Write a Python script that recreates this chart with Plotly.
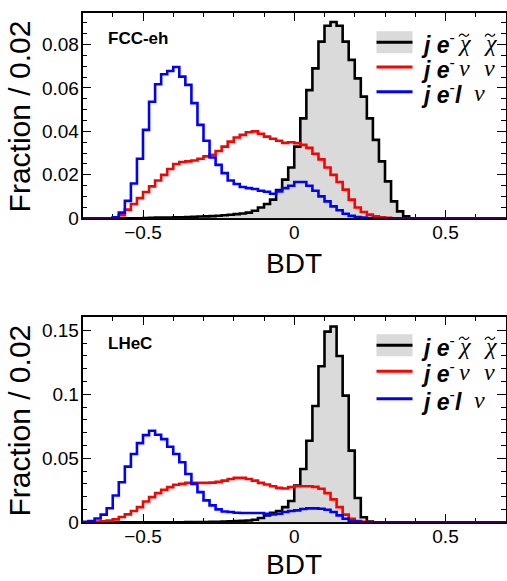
import numpy as np
import plotly.graph_objects as go

W, H = 507, 581

# ---- data: 70 bins of width 0.02 from -0.7 to 0.7 ----
bin_lo, bin_hi, bin_w = -0.7, 0.7, 0.02

signal_fcc = [0, 0, 0, 0, 0, 0, 0, 0, 0, 0,
              0.0001, 0.0002, 0.0003, 0.0003, 0.0004, 0.0005, 0.0005, 0.0006, 0.0007, 0.0008,
              0.0009, 0.0010, 0.0012, 0.0014, 0.0016, 0.0019, 0.0022, 0.0026, 0.0035, 0.0050,
              0.0066, 0.0086, 0.0130, 0.0178, 0.0234, 0.0330, 0.0460, 0.0590, 0.0690, 0.0813,
              0.0886, 0.0903, 0.0886, 0.0813, 0.0729, 0.0644, 0.0560, 0.0460, 0.0361, 0.0262,
              0.0170, 0.0078, 0.0032, 0.0009, 0, 0, 0, 0, 0, 0,
              0, 0, 0, 0, 0, 0, 0, 0, 0, 0]
nunu_fcc = [0, 0, 0, 0, 0, 0.0002, 0.0014, 0.0040, 0.0066, 0.0093,
            0.0121, 0.0147, 0.0174, 0.0200, 0.0227, 0.0250, 0.0259, 0.0262, 0.0266, 0.0274,
            0.0285, 0.0292, 0.0310, 0.0330, 0.0353, 0.0372, 0.0384, 0.0396, 0.0400, 0.0389,
            0.0376, 0.0366, 0.0357, 0.0347, 0.0350, 0.0346, 0.0338, 0.0324, 0.0297, 0.0271,
            0.0234, 0.0200, 0.0167, 0.0132, 0.0086, 0.0050, 0.0029, 0.0017, 0.0009, 0.0005,
            0.0002, 0, 0, 0, 0, 0, 0, 0, 0, 0,
            0, 0, 0, 0, 0, 0, 0, 0, 0, 0]
lnu_fcc = [0, 0, 0, 0, 0, 0.0005, 0.0026, 0.0080, 0.0160, 0.0274,
           0.0407, 0.0536, 0.0617, 0.0663, 0.0678, 0.0696, 0.0652, 0.0614, 0.0530, 0.0430,
           0.0357, 0.0280, 0.0246, 0.0208, 0.0174, 0.0158, 0.0144, 0.0139, 0.0135, 0.0127,
           0.0122, 0.0113, 0.0124, 0.0139, 0.0150, 0.0167, 0.0167, 0.0150, 0.0127, 0.0101,
           0.0078, 0.0055, 0.0037, 0.0021, 0.0011, 0.0006, 0.0003, 0.0001, 0, 0,
           0, 0, 0, 0, 0, 0, 0, 0, 0, 0,
           0, 0, 0, 0, 0, 0, 0, 0, 0, 0]

signal_lhec = [0, 0, 0, 0, 0, 0, 0, 0, 0, 0,
               0, 0, 0, 0, 0, 0, 0, 0.0001, 0.0001, 0.0002,
               0.0002, 0.0003, 0.0004, 0.0005, 0.0007, 0.0009, 0.0011, 0.0014, 0.0020, 0.0034,
               0.0054, 0.0075, 0.0088, 0.0119, 0.0166, 0.0287, 0.0417, 0.0637, 0.0909, 0.1220,
               0.1490, 0.1530, 0.1300, 0.0990, 0.0560, 0.0190, 0.0040, 0.0005, 0, 0,
               0, 0, 0, 0, 0, 0, 0, 0, 0, 0,
               0, 0, 0, 0, 0, 0, 0, 0, 0, 0]
nunu_lhec = [0, 0.0003, 0.0005, 0.0008, 0.0013, 0.0023, 0.0041, 0.0062, 0.0088, 0.0119,
             0.0163, 0.0197, 0.0228, 0.0254, 0.0275, 0.0293, 0.0300, 0.0308, 0.0308, 0.0308,
             0.0308, 0.0310, 0.0316, 0.0326, 0.0339, 0.0347, 0.0347, 0.0339, 0.0326, 0.0308,
             0.0295, 0.0282, 0.0269, 0.0264, 0.0275, 0.0282, 0.0282, 0.0282, 0.0277, 0.0262,
             0.0228, 0.0179, 0.0119, 0.0060, 0.0028, 0.0010, 0.0003, 0, 0, 0,
             0, 0, 0, 0, 0, 0, 0, 0, 0, 0,
             0, 0, 0, 0, 0, 0, 0, 0, 0, 0]
lnu_lhec = [0.0003, 0.0010, 0.0030, 0.0060, 0.0110, 0.0210, 0.0313, 0.0435, 0.0534, 0.0619,
            0.0681, 0.0715, 0.0684, 0.0650, 0.0590, 0.0534, 0.0469, 0.0378, 0.0300, 0.0236,
            0.0171, 0.0132, 0.0101, 0.0085, 0.0080, 0.0075, 0.0073, 0.0073, 0.0073, 0.0073,
            0.0067, 0.0062, 0.0067, 0.0080, 0.0088, 0.0093, 0.0104, 0.0109, 0.0109, 0.0106,
            0.0098, 0.0080, 0.0054, 0.0028, 0.0010, 0.0005, 0, 0, 0, 0,
            0, 0, 0, 0, 0, 0, 0, 0, 0, 0,
            0, 0, 0, 0, 0, 0, 0, 0, 0, 0]

panel_names = ["FCC-eh", "LHeC"]
x_title = "BDT"
y_title = "Fraction / 0.02"

# legend pieces: Latin part, then Greek symbols (with tilde flag)
leg_latin = ["<b><i>j e</i></b><sup>-</sup>",
             "<b><i>j e</i></b><sup>-</sup>",
             "<b><i>j e</i></b><sup>-</sup><b><i>l</i></b>"]
leg_greek = [[("χ", True), ("χ", True)],
             [("ν", False), ("ν", False)],
             [("ν", False)]]
leg_greek_x = [[456, 482], [457, 482], [472]]   # left edges in px
leg_colors = ["black", "red", "blue"]

edges = np.round(np.arange(bin_lo, bin_hi + bin_w / 2, bin_w), 4)

FONT = "Liberation Sans, Arial, Helvetica, sans-serif"
SERIF = "Liberation Serif, Times New Roman, serif"
GREY = "rgb(218,218,218)"


def px(x):
    return x / W


def py(y):
    return 1 - y / H


def step(vals, xa, ya, color, fill=False):
    yv = list(vals) + [vals[-1]]
    return go.Scatter(
        x=edges, y=yv, xaxis=xa, yaxis=ya, mode="lines",
        line=dict(color=color, width=2.6, shape="hv"),
        fill="tozeroy" if fill else None,
        fillcolor=GREY if fill else None,
        cliponaxis=False, showlegend=False, hoverinfo="skip")


def tilde_path(x0, y0):
    """small tilde accent drawn as a curve, pixel coords -> paper coords"""
    pts = [(x0, y0 + 1.3), (x0 + 1.6, y0 - 1.6), (x0 + 3.6, y0 - 1.6), (x0 + 5, y0),
           (x0 + 6.4, y0 + 1.6), (x0 + 8.4, y0 + 1.6), (x0 + 10, y0 - 1.3)]
    p = ["%.5f,%.5f" % (px(a), py(b)) for a, b in pts]
    return "M %s C %s %s %s C %s %s %s" % tuple(p)


fig = go.Figure()
for (sig, nn, ln, xa, ya) in [(signal_fcc, nunu_fcc, lnu_fcc, "x", "y"),
                              (signal_lhec, nunu_lhec, lnu_lhec, "x2", "y2")]:
    fig.add_trace(step(sig, xa, ya, "black", fill=True))
    fig.add_trace(step(nn, xa, ya, "red"))
    fig.add_trace(step(ln, xa, ya, "blue"))

# panel frames (pixels)
top_panel = (12.5, 218.3)
bot_panel = (316.7, 522.3)
xl, xr = 82.5, 506.0

axis_common = dict(
    showgrid=False, zeroline=False, showline=True, mirror="allticks",
    linecolor="black", linewidth=1.5, ticks="inside", ticklen=9,
    tickwidth=1.2, tickcolor="black", layer="below traces",
    tickfont=dict(family=FONT, size=19, color="black"), automargin=False,
)

xax = dict(axis_common, range=[bin_lo, bin_hi], tick0=0, dtick=0.5, ticklabelstandoff=-4,
           minor=dict(dtick=0.1, ticklen=5, ticks="inside", tickcolor="black", tickwidth=1.2),
           domain=[px(xl), px(xr)])

fig.update_layout(
    width=W, height=H, autosize=False,
    margin=dict(l=0, r=0, t=0, b=0),
    paper_bgcolor="white", plot_bgcolor="white",
    xaxis=dict(xax, anchor="y"),
    xaxis2=dict(xax, anchor="y2"),
    yaxis=dict(axis_common, range=[0, 0.0947], tick0=0, dtick=0.02, ticklabelstandoff=-2,
               minor=dict(dtick=0.005, ticklen=5, ticks="inside", tickcolor="black", tickwidth=1.2),
               domain=[py(top_panel[1]), py(top_panel[0])], anchor="x"),
    yaxis2=dict(axis_common, range=[0, 0.1607], tick0=0, dtick=0.05, ticklabelstandoff=-2,
                minor=dict(dtick=0.01, ticklen=5, ticks="inside", tickcolor="black", tickwidth=1.2),
                domain=[py(bot_panel[1]), py(bot_panel[0])], anchor="x2"),
)

ann = []
shapes = []

for (ptop, pbot), name, leg_y, xt_y in [(top_panel, panel_names[0], (42.2, 66.9, 91.7), 263),
                                        (bot_panel, panel_names[1], (345.3, 371.3, 398.7), 564)]:
    # y title
    ann.append(dict(text=y_title, x=px(19), y=py((ptop + pbot) / 2 + 1), xref="paper", yref="paper",
                    textangle=-90, showarrow=False, xanchor="center", yanchor="middle",
                    font=dict(family=FONT, size=30, color="black")))
    # x title
    ann.append(dict(text=x_title, x=px(294), y=py(xt_y), xref="paper", yref="paper",
                    showarrow=False, xanchor="center", yanchor="middle",
                    font=dict(family=FONT, size=28, color="black")))
    # panel label
    ann.append(dict(text="<b>%s</b>" % name, x=px(105.5), y=py(ptop + 26.5), xref="paper", yref="paper",
                    showarrow=False, xanchor="left", yanchor="middle",
                    font=dict(family=FONT, size=17, color="black")))
    # legend
    for i, ly in enumerate(leg_y):
        col = leg_colors[i]
        if i == 0:
            shapes.append(dict(type="rect", xref="paper", yref="paper",
                               x0=px(376.5), x1=px(412.5), y0=py(ly - 11), y1=py(ly + 11),
                               fillcolor=GREY, line=dict(width=0)))
        shapes.append(dict(type="line", xref="paper", yref="paper",
                           x0=px(376.5), x1=px(412.5), y0=py(ly), y1=py(ly),
                           line=dict(color=col, width=3)))
        ann.append(dict(text=leg_latin[i], x=px(419), y=py(ly + 1), xref="paper", yref="paper",
                        showarrow=False, xanchor="left", yanchor="middle",
                        font=dict(family=FONT, size=23, color="black")))
        for (sym, tilde), gx in zip(leg_greek[i], leg_greek_x[i]):
            ann.append(dict(text="<i>%s</i>" % sym, x=px(gx), y=py(ly + 1), xref="paper", yref="paper",
                            showarrow=False, xanchor="left", yanchor="middle",
                            font=dict(family=SERIF, size=24, color="black")))
            if tilde:
                shapes.append(dict(type="path", xref="paper", yref="paper",
                                   path=tilde_path(gx + 3, ly - 7),
                                   line=dict(color="black", width=1.2)))

fig.update_layout(annotations=ann, shapes=shapes)
fig.write_html("out.html")
